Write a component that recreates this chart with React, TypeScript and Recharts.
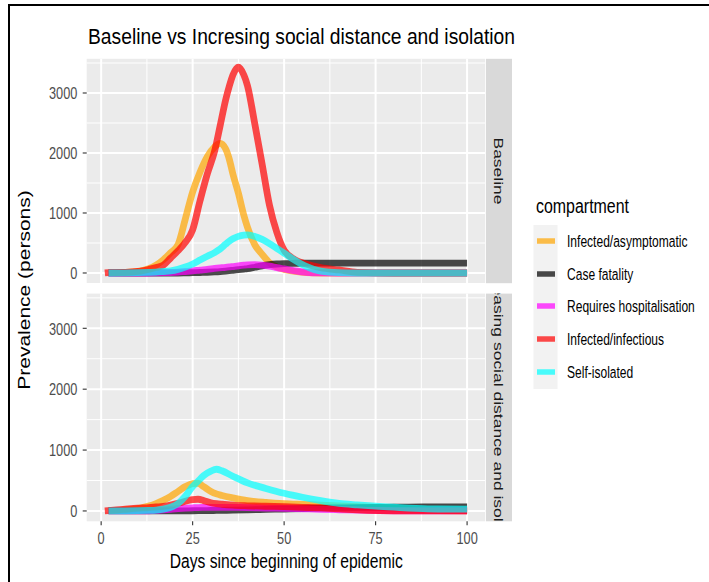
import React from 'react';
import { LineChart, Line, XAxis, YAxis, CartesianGrid } from 'recharts';

const FONT = '"Liberation Sans", Arial, Helvetica, sans-serif';
const SQUEEZE = 0.75;

const compartments = ['Infected/asymptomatic', 'Case fatality', 'Requires hospitalisation', 'Infected/infectious', 'Self-isolated'];
const compartmentKeys = ['asymptomatic', 'fatality', 'hospitalised', 'infectious', 'isolated'];
const compartmentColors = ['#FFA500', '#000000', '#FF00FF', '#FF0000', '#00FFFF'];

const scenarioLabels = ['Baseline', 'Increasing social distance and isolation'];

const dayTicks = [0, 25, 50, 75, 100];
const dayMinor = [12.5, 37.5, 62.5, 87.5];
const prevalenceTicks = [0, 1000, 2000, 3000];
const prevalenceMinor = [500, 1500, 2500, 3500];

// Baseline scenario
const baselineDays = [1, 2, 6, 10, 13, 15, 17, 19, 21, 23, 25, 27, 29, 31, 32.5, 34, 35, 36, 37.5, 39, 40, 42, 44, 46, 48, 50, 53, 56, 60, 65, 70, 80, 90, 100];
const baselineAsymptomatic = [null, 5, 10, 25, 70, 130, 220, 340, 470, 900, 1350, 1680, 1940, 2100, 2160, 2070, 1900, 1650, 1330, 960, 760, 470, 310, 170, 100, 60, 25, 5, 0, 0, 0, 0, 0, 0];
const baselineFatality = [null, 0, 0, 0, 0, 0, 0, 0, 0, 2, 5, 8, 12, 18, 24, 32, 38, 45, 55, 65, 72, 95, 120, 138, 150, 157, 162, 165, 165, 165, 165, 165, 165, 165];
const baselineHospitalised = [null, 0, 0, 0, 0, 2, 5, 8, 15, 25, 35, 48, 60, 75, 85, 95, 100, 108, 120, 130, 135, 138, 130, 115, 90, 68, 35, 12, 2, 0, 0, 0, 0, 0];
const baselineInfectious = [0, 5, 10, 25, 60, 90, 130, 250, 370, 510, 720, 1200, 1650, 2030, 2450, 2880, 3110, 3300, 3430, 3300, 3120, 2480, 1810, 1130, 680, 380, 220, 150, 90, 50, 10, 0, 0, 0];
const baselineIsolated = [null, 0, 2, 5, 10, 15, 25, 35, 60, 100, 150, 215, 280, 340, 400, 480, 530, 570, 610, 630, 635, 610, 560, 490, 410, 330, 210, 110, 30, 5, 0, 0, 0, 0];

// Increasing social distance and isolation scenario
const interventionDays = [1, 2, 6, 10, 13, 15, 17, 19, 21, 23, 25, 26.5, 28, 30, 31.5, 33, 36, 40, 45, 50, 55, 60, 65, 70, 76, 80, 84, 88, 92, 100];
const interventionAsymptomatic = [null, 5, 15, 40, 80, 120, 175, 240, 320, 400, 450, 455, 400, 320, 280, 255, 215, 170, 140, 120, 108, 97, 85, 72, 55, 42, 28, 12, 4, 0];
const interventionFatality = [null, 0, 0, 0, 0, 0, 0, 0, 1, 2, 3, 4, 5, 7, 8, 10, 13, 18, 25, 32, 39, 45, 50, 55, 59, 62, 64, 65, 65, 65];
const interventionHospitalised = [null, 0, 0, 0, 2, 8, 18, 28, 38, 46, 52, 56, 58, 60, 60, 60, 58, 55, 48, 42, 35, 28, 20, 12, 5, 2, 0, 0, 0, 0];
const interventionInfectious = [0, 5, 25, 45, 55, 65, 75, 95, 125, 160, 185, 192, 170, 135, 120, 110, 95, 85, 77, 70, 60, 50, 35, 18, 6, 2, 0, 0, 0, 0];
const interventionIsolated = [null, 0, 2, 5, 10, 15, 30, 60, 120, 240, 400, 490, 580, 655, 685, 660, 570, 460, 370, 290, 225, 170, 125, 100, 75, 62, 48, 38, 32, 30];

const buildRows = (days: number[], series: (number | null)[][]) =>
  days.map((day, i) => {
    const row: Record<string, number | null> = { day };
    compartmentKeys.forEach((key, k) => {
      row[key] = series[k][i];
    });
    return row;
  });

const baselineRows = buildRows(baselineDays, [baselineAsymptomatic, baselineFatality, baselineHospitalised, baselineInfectious, baselineIsolated]);
const interventionRows = buildRows(interventionDays, [interventionAsymptomatic, interventionFatality, interventionHospitalised, interventionInfectious, interventionIsolated]);

const DAY_DOMAIN: [number, number] = [-3.95, 104.95];
const PREV_DOMAIN: [number, number] = [-170, 3570];

const AxisNumber = (props: any) => {
  const { x, y, payload, anchor, dy } = props;
  return (
    <text
      x={0}
      y={0}
      transform={`translate(${x},${y + dy}) scale(${SQUEEZE},1)`}
      textAnchor={anchor}
      dominantBaseline="central"
      fontSize={17}
      fill="#4D4D4D"
      fontFamily={FONT}
    >
      {payload.value}
    </text>
  );
};

function Panel({ rows, width, height, top, showDays, xAxisHeight }: any) {
  return (
    <LineChart width={width} height={height} data={rows} margin={{ top, right: 0.8, bottom: 0, left: 0 }}>
      <CartesianGrid
        fill="#EBEBEB"
        fillOpacity={1}
        stroke="#FFFFFF"
        strokeWidth={1}
        horizontalValues={prevalenceMinor}
        verticalValues={dayMinor}
      />
      <CartesianGrid
        stroke="#FFFFFF"
        strokeWidth={2}
        horizontalValues={prevalenceTicks}
        verticalValues={dayTicks}
      />
      <XAxis
        type="number"
        dataKey="day"
        domain={DAY_DOMAIN}
        allowDataOverflow
        ticks={dayTicks}
        interval={0}
        hide={!showDays}
        height={xAxisHeight}
        axisLine={false}
        tickSize={4}
        tickMargin={0}
        tickLine={{ stroke: '#333333', strokeWidth: 1.1 }}
        tick={(p: any) => <AxisNumber {...p} anchor="middle" dy={12.7} />}
      />
      <YAxis
        type="number"
        domain={PREV_DOMAIN}
        allowDataOverflow
        ticks={prevalenceTicks}
        interval={0}
        width={86.7}
        axisLine={false}
        tickSize={4}
        tickMargin={5.4}
        tickLine={{ stroke: '#333333', strokeWidth: 1.1 }}
        tick={(p: any) => <AxisNumber {...p} anchor="end" dy={0} />}
      />
      {compartmentKeys.map((key, k) => (
        <Line
          key={key}
          type="monotone"
          dataKey={key}
          stroke={compartmentColors[k]}
          strokeOpacity={0.7}
          strokeWidth={6.8}
          strokeLinejoin="round"
          strokeLinecap="butt"
          dot={false}
          activeDot={false}
          connectNulls={false}
          isAnimationActive={false}
        />
      ))}
    </LineChart>
  );
}

const legendRows = [241, 274, 306, 339, 372];

export default function App() {
  return (
    <div style={{ position: 'absolute', left: 0, top: 0, width: 709, height: 582, background: '#FFFFFF', overflow: 'hidden', fontFamily: FONT }}>
      <div style={{ position: 'absolute', left: 0, top: 0 }}>
        <Panel rows={baselineRows} width={486} height={283.2} top={58.8} showDays={false} xAxisHeight={0} />
      </div>
      <div style={{ position: 'absolute', left: 0, top: 284 }}>
        <Panel rows={interventionRows} width={486} height={298} top={9.6} showDays xAxisHeight={60.7} />
      </div>
      <svg width={709} height={582} style={{ position: 'absolute', left: 0, top: 0, pointerEvents: 'none' }} fontFamily={FONT}>
        <defs>
          <clipPath id="strip-top">
            <rect x={486} y={58.8} width={26} height={224.4} />
          </clipPath>
          <clipPath id="strip-bottom">
            <rect x={486} y={293.6} width={26} height={227.7} />
          </clipPath>
        </defs>

        <text x={88} y={44} fontSize={22} fill="#000000" textLength={427} lengthAdjust="spacingAndGlyphs">
          Baseline vs Incresing social distance and isolation
        </text>

        <rect x={486} y={58.8} width={26} height={224.4} fill="#D9D9D9" />
        <rect x={486} y={293.6} width={26} height={227.7} fill="#D9D9D9" />
        <g clipPath="url(#strip-top)">
          <text transform={`translate(499,171) scale(${SQUEEZE},1) rotate(90)`} textAnchor="middle" dominantBaseline="central" fontSize={17.5} fill="#1A1A1A">
            {scenarioLabels[0]}
          </text>
        </g>
        <g clipPath="url(#strip-bottom)">
          <text transform={`translate(499,408) scale(${SQUEEZE},1) rotate(90)`} textAnchor="middle" dominantBaseline="central" fontSize={17.5} fill="#1A1A1A">
            {scenarioLabels[1]}
          </text>
        </g>

        <text transform="translate(24,290) scale(0.82,1) rotate(-90)" textAnchor="middle" dominantBaseline="central" fontSize={21} fill="#000000">
          Prevalence (persons)
        </text>
        <text x={286.3} y={568} textAnchor="middle" fontSize={20} fill="#000000" textLength={233} lengthAdjust="spacingAndGlyphs">
          Days since beginning of epidemic
        </text>

        <text x={536} y={213} fontSize={20} fill="#000000" textLength={93} lengthAdjust="spacingAndGlyphs">
          compartment
        </text>
        <rect x={533.5} y={225} width={24} height={164} fill="#F2F2F2" />
        {compartments.map((name, k) => (
          <g key={name}>
            <line x1={537} x2={555} y1={legendRows[k]} y2={legendRows[k]} stroke={compartmentColors[k]} strokeOpacity={0.7} strokeWidth={5.5} />
            <text
              transform={`translate(567,${legendRows[k]}) scale(0.73,1)`}
              dominantBaseline="central"
              fontSize={16.5}
              fill="#000000"
            >
              {name}
            </text>
          </g>
        ))}
      </svg>
      <div style={{ position: 'absolute', left: 8, top: 4, right: -4, bottom: -4, borderTop: '2.5px solid #000', borderLeft: '2.5px solid #000' }} />
    </div>
  );
}
